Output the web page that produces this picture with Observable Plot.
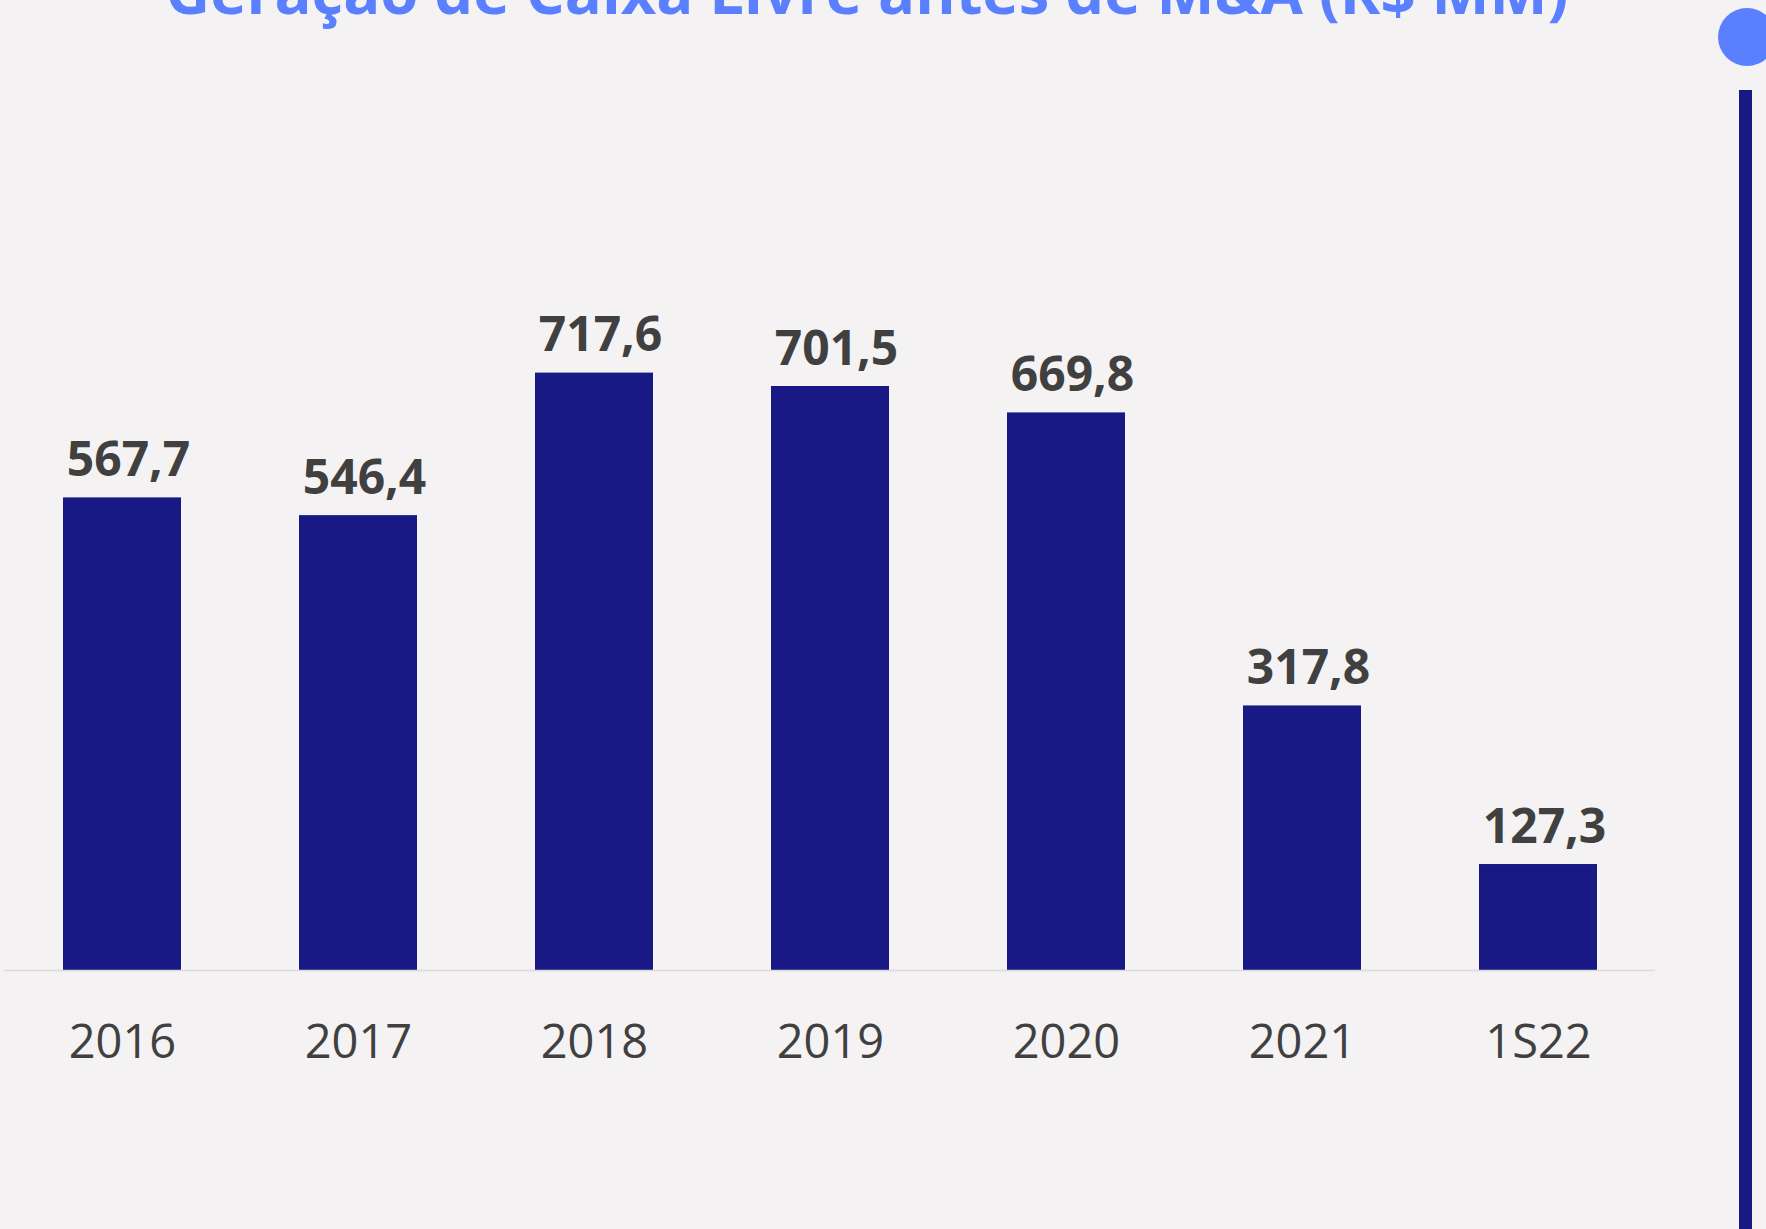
<!DOCTYPE html>
<html>
<head>
<meta charset="utf-8">
<script src="https://cdn.jsdelivr.net/npm/d3@7"></script>
<script src="https://cdn.jsdelivr.net/npm/@observablehq/plot@0.6"></script>
<style>
  html, body { margin: 0; padding: 0; background: #f4f2f3; }
  #wrap { position: relative; width: 1766px; height: 1229px; overflow: hidden; background: #f4f2f3; font-family: "Open Sans", sans-serif; }
  #title { position: absolute; left: 0; width: 1734px; text-align: center; top: -41.5px; font-size: 61.5px; line-height: 62px; font-weight: 700; color: #5a7fff; white-space: nowrap; }
  #chart { position: absolute; left: 0; top: 0; }
  #dot { position: absolute; left: 1717.7px; top: 7.7px; width: 58px; height: 58px; border-radius: 50%; background: #5a7fff; }
  #vbar { position: absolute; left: 1738.7px; top: 90px; width: 13.3px; height: 1139px; background: #181985; }
</style>
</head>
<body>
<div id="wrap">
  <div id="chart"></div>
  <div id="title">Geração de Caixa Livre antes de M&amp;A (R$ MM)</div>
  <div id="dot"></div>
  <div id="vbar"></div>
</div>
<script>
const categories = ["2016", "2017", "2018", "2019", "2020", "2021", "1S22"];
const values = [567.7, 546.4, 717.6, 701.5, 669.8, 317.8, 127.3];
const barColor = "#181985";
const textColor = "#404040";

const data = categories.map((c, i) => ({cat: c, value: values[i]}));
const fmt = v => d3.format(".1f")(v).replace(".", ",");

const chart = Plot.plot({
  width: 1766,
  height: 1229,
  marginLeft: 4,
  marginRight: 111,
  marginTop: 137.5,
  marginBottom: 259,
  style: {background: "transparent", fontFamily: "'Open Sans', sans-serif", color: textColor},
  x: {domain: categories, range: [63.3, 1597.3], paddingInner: 0.5, paddingOuter: 0},
  y: {domain: [0, 1000], axis: null},
  marks: [
    Plot.barY(data, {x: "cat", y: "value", fill: barColor}),
    Plot.ruleY([0], {stroke: "#dadada", strokeWidth: 1.5}),
    Plot.text(data, {x: "cat", y: "value", text: d => fmt(d.value), dy: -22, dx: 6, lineAnchor: "bottom", fontSize: 48, fontWeight: 700, fill: textColor}),
    Plot.axisX({tickSize: 0, tickPadding: 54.5, fontSize: 47, fill: textColor, label: null})
  ]
});
document.getElementById("chart").appendChild(chart);
</script>
</body>
</html>
